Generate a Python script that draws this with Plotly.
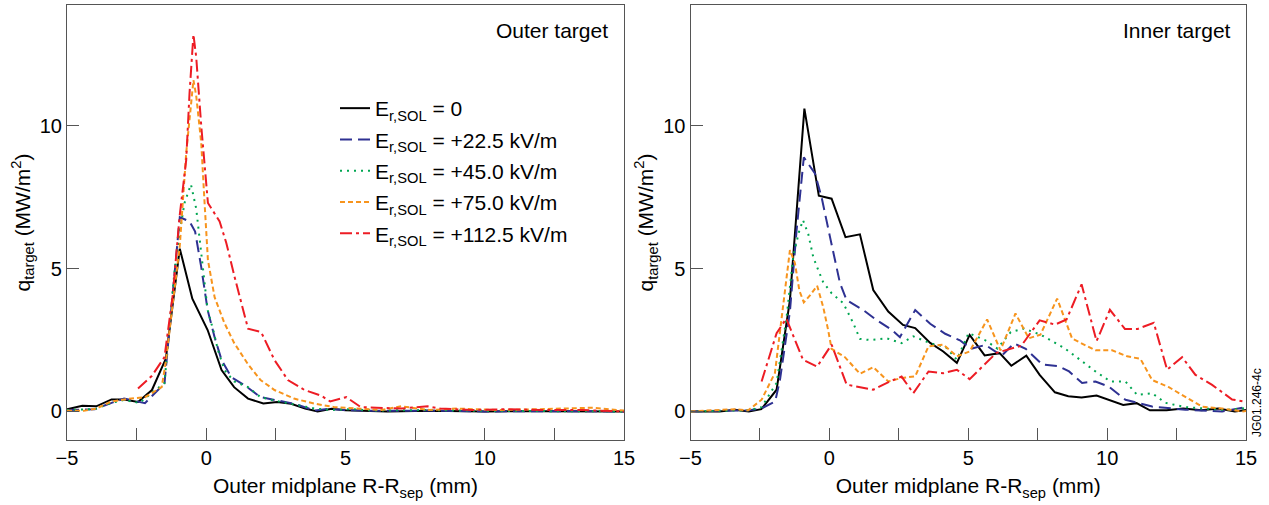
import plotly.graph_objects as go

# ---------------- data ----------------
series_names = ["E<sub>r,SOL</sub> = 0",
                "E<sub>r,SOL</sub> = +22.5 kV/m",
                "E<sub>r,SOL</sub> = +45.0 kV/m",
                "E<sub>r,SOL</sub> = +75.0 kV/m",
                "E<sub>r,SOL</sub> = +112.5 kV/m"]

# Outer target (left panel)
outer_x_0 = [-5, -4.45, -3.95, -3.4, -2.95, -2.45, -1.95, -1.45, -0.95, -0.5, 0.05, 0.55, 1.0, 1.5, 2.05, 2.55,
             3.05, 3.55, 4.0, 4.5, 5.0, 5.6, 6.5, 8, 10, 12, 14, 15]
outer_y_0 = [0.08, 0.2, 0.18, 0.42, 0.42, 0.33, 0.75, 1.85, 5.7, 3.95, 2.85, 1.45, 0.85, 0.45, 0.28, 0.33,
             0.27, 0.1, 0.0, 0.09, 0.04, 0.02, 0.0, 0.02, 0.0, 0.01, 0.0, 0.0]

outer_x_22 = [-5, -4.0, -3.4, -2.95, -2.2, -1.85, -1.5, -1.15, -0.95, -0.6, -0.4, -0.18, 0.05, 0.3, 0.55, 0.9,
              1.4, 1.95, 2.45, 3.15, 3.9, 4.4, 5.0, 6, 8, 10, 12, 14, 15]
outer_y_22 = [0.05, 0.08, 0.3, 0.45, 0.29, 0.62, 0.98, 4.7, 6.8, 6.65, 6.3, 5.05, 3.55, 2.6, 1.8, 1.2,
              0.9, 0.5, 0.4, 0.27, 0.03, 0.09, 0.05, 0.02, 0.03, 0.0, 0.01, 0.0, 0.0]

outer_x_45 = [-5, -4.0, -3.4, -2.95, -2.4, -1.9, -1.5, -1.15, -0.95, -0.78, -0.55, -0.36, -0.12, 0.05, 0.25,
              0.42, 0.65, 1.0, 1.5, 1.95, 2.45, 3.1, 3.9, 4.5, 5.2, 6, 8, 10, 12, 14, 15]
outer_y_45 = [0.05, 0.08, 0.3, 0.4, 0.3, 0.7, 1.0, 4.8, 6.3, 7.3, 7.95, 7.1, 5.05, 3.55, 2.85,
              2.15, 1.45, 1.05, 0.85, 0.5, 0.38, 0.25, 0.1, 0.05, 0.08, 0.03, 0.05, 0.02, 0.02, 0.0, 0.0]

outer_x_75 = [-5, -4.4, -3.95, -3.4, -2.8, -2.2, -1.6, -1.45, -1.2, -0.95, -0.72, -0.46, -0.36, -0.18, -0.06,
              0.06, 0.3, 0.65, 1.0, 1.5, 1.95, 2.45, 3.15, 3.9, 4.6, 5.5, 6.3, 7.0, 8.0, 9, 10.5, 12, 13.9, 15]
outer_y_75 = [0.02, 0.02, 0.1, 0.35, 0.44, 0.5, 0.85, 1.75, 3.8, 5.8, 9.05, 11.6, 11.05, 9.4, 7.3,
              5.3, 4.0, 3.1, 2.4, 1.65, 1.1, 0.75, 0.45, 0.27, 0.15, 0.1, 0.05, 0.18, 0.05, 0.1, 0.05, 0.08, 0.13, 0.03]

outer_x_112 = [-2.45, -1.95, -1.5, -1.2, -0.96, -0.72, -0.6, -0.46, -0.36, -0.18, 0.06, 0.48, 0.72, 1.02, 1.5,
               1.97, 2.45, 2.93, 3.53, 4.13, 4.45, 5.03, 5.55, 6.3, 7.0, 7.95, 8.4, 9.5, 10.8, 12, 13.5, 15]
outer_y_112 = [0.8, 1.25, 1.9, 4.1, 6.8, 8.8, 11.15, 13.2, 12.4, 10.0, 7.3, 6.65, 5.9, 4.7, 2.9,
               2.78, 1.8, 1.1, 0.75, 0.55, 0.35, 0.5, 0.15, 0.12, 0.1, 0.18, 0.1, 0.05, 0.08, 0.05, 0.05, 0.0]

# Inner target (right panel)
inner_x_0 = [-5, -3.95, -3.4, -2.9, -2.45, -1.9, -1.42, -0.9, -0.38, 0.08, 0.58, 1.1, 1.58, 2.12, 2.65, 3.09,
             3.63, 4.1, 4.59, 5.05, 5.59, 6.13, 6.55, 7.09, 7.57, 8.12, 8.6, 9.08, 9.62, 10.1, 10.58, 11.06,
             11.54, 12.14, 12.74, 13.4, 14.0, 14.6, 15]
inner_y_0 = [0, 0, 0.06, 0, 0.08, 0.76, 3.9, 10.6, 7.55, 7.45, 6.1, 6.2, 4.25, 3.5, 3.03, 2.92,
             2.4, 2.1, 1.7, 2.68, 1.96, 2.04, 1.6, 1.95, 1.28, 0.67, 0.53, 0.49, 0.56, 0.39, 0.23, 0.29,
             0.04, 0.04, 0.1, 0.04, 0.1, 0.0, 0.05]

inner_x_22 = [-5, -3.4, -2.9, -2.45, -1.95, -1.78, -1.42, -1.18, -0.92, -0.52, -0.28, 0.02, 0.38, 0.62, 1.22,
              1.7, 2.24, 2.54, 3.09, 3.63, 4.17, 4.7, 5.1, 5.62, 6.2, 6.65, 7.07, 7.67, 8.27, 8.63, 9.1, 9.58,
              10.06, 10.66, 11.14, 11.62, 12.82, 14.14, 15]
inner_y_22 = [0, 0.05, 0.04, 0.1, 0.35, 1.1, 3.5, 6.35, 8.9, 8.33, 7.5, 6.12, 4.5, 3.9, 3.55,
              3.2, 2.86, 2.6, 3.55, 3.07, 2.72, 2.49, 2.19, 2.33, 1.95, 2.38, 2.19, 1.64, 1.58, 1.4, 1.0, 1.05,
              0.87, 0.41, 0.29, 0.17, 0.06, 0.0, 0.15]

inner_x_45 = [-5, -3.4, -2.9, -2.44, -1.9, -1.54, -1.3, -1.1, -0.95, -0.76, -0.58, -0.4, -0.22, 0.08, 0.5,
              0.86, 1.1, 1.46, 2.06, 2.6, 3.02, 3.63, 4.17, 4.59, 5.01, 5.6, 6.05, 6.53, 7.0, 7.6, 8.02, 8.44,
              8.86, 9.58, 10.12, 10.66, 11.08, 11.62, 12.1, 12.82, 14.26, 15]
inner_y_45 = [0, 0.05, 0.04, 0.15, 1.0, 3.3, 5.43, 6.27, 6.7, 6.21, 5.4, 4.95, 4.52, 4.14, 3.79,
              3.09, 2.54, 2.5, 2.56, 2.39, 2.63, 2.39, 2.27, 1.81, 2.74, 2.5, 2.2, 2.78, 2.9, 2.69, 2.46, 2.23,
              1.93, 1.4, 1.05, 1.05, 0.58, 0.64, 0.3, 0.15, 0.05, 0.12]

inner_x_75 = [-5, -3.4, -2.92, -2.44, -1.96, -1.66, -1.42, -1.24, -1.08, -0.92, -0.7, -0.44, -0.22, -0.04, 0.08,
              0.56, 1.1, 1.58, 2.12, 2.6, 3.09, 3.57, 4.1, 4.59, 5.05, 5.68, 6.16, 6.7, 7.18, 7.6, 8.2, 8.74,
              9.58, 10.18, 10.72, 11.2, 11.62, 12.22, 12.82, 13.42, 14.14, 14.86, 15]
inner_y_75 = [0, 0.08, 0.04, 0.41, 1.35, 3.79, 5.65, 5.19, 4.23, 3.82, 4.06, 4.4, 3.65, 2.83, 2.19,
              1.9, 1.32, 1.55, 1.05, 1.17, 1.23, 2.28, 2.34, 1.93, 2.1, 3.22, 2.14, 3.43, 2.56, 2.69, 3.95, 2.55,
              2.14, 2.14, 1.93, 1.84, 1.1, 0.85, 0.5, 0.17, 0.1, 0.0, 0.02]

inner_x_112 = [-2.44, -1.9, -1.55, -0.95, -0.44, 0.08, 0.62, 1.1, 1.58, 2.18, 2.6, 3.02, 3.57, 4.1, 4.59, 5.05,
               6.01, 6.91, 7.57, 8.12, 8.54, 9.08, 9.62, 10.1, 10.64, 11.1, 11.68, 12.16, 12.7, 13.18, 13.78,
               14.5, 15]
inner_y_112 = [1.05, 2.74, 3.25, 1.81, 1.57, 2.34, 0.94, 0.85, 0.76, 1.05, 1.22, 0.64, 1.4, 1.34, 1.46, 1.13,
               2.05, 2.3, 3.19, 3.04, 3.22, 4.45, 2.46, 3.56, 2.89, 2.89, 3.1, 1.46, 1.9, 1.28, 0.93,
               0.42, 0.33]

x_tick_vals = [-5, 0, 5, 10, 15]
y_tick_vals = [0, 5, 10]

# ---------------- styles ----------------
colors = ["#000000", "#2E3192", "#00A651", "#F7941D", "#ED1C24"]
dashes = ["solid", "12px,6px", "2px,5px", "5px,3px", "12px,4px,3px,4px"]

outer = [(outer_x_0, outer_y_0), (outer_x_22, outer_y_22), (outer_x_45, outer_y_45),
         (outer_x_75, outer_y_75), (outer_x_112, outer_y_112)]
inner = [(inner_x_0, inner_y_0), (inner_x_22, inner_y_22), (inner_x_45, inner_y_45),
         (inner_x_75, inner_y_75), (inner_x_112, inner_y_112)]

fig = go.Figure()
for i, (xs, ys) in enumerate(outer):
    fig.add_trace(go.Scatter(x=xs, y=ys, mode="lines", name=series_names[i], legendgroup=f"g{i}",
                             line=dict(color=colors[i], width=2, dash=dashes[i]),
                             xaxis="x", yaxis="y", showlegend=True))
for i, (xs, ys) in enumerate(inner):
    fig.add_trace(go.Scatter(x=xs, y=ys, mode="lines", name=series_names[i], legendgroup=f"g{i}",
                             line=dict(color=colors[i], width=2, dash=dashes[i]),
                             xaxis="x2", yaxis="y2", showlegend=False))

FONT = "Liberation Sans, Arial, sans-serif"
axis_common = dict(showline=True, linecolor="#555555", linewidth=1.2, mirror=True,
                   ticks="inside", ticklen=12, tickcolor="#555555", tickwidth=1,
                   showgrid=False, zeroline=False, automargin=False,
                   tickfont=dict(size=20, color="#000", family=FONT))
xcommon = dict(axis_common, range=[-5, 15], tickvals=x_tick_vals,
               minor=dict(dtick=2.5, ticks="inside", ticklen=12, tickcolor="#555555", showgrid=False),
               title=dict(text="Outer midplane R-R<sub>sep</sub> (mm)", font=dict(size=21, family=FONT, color="#000"),
                          standoff=10))
ycommon = dict(axis_common, range=[-1, 14.23], tickvals=y_tick_vals,
               title=dict(text="q<sub>target</sub> (MW/m<sup>2</sup>)", font=dict(size=21, family=FONT, color="#000"),
                          standoff=3))

L, R, T, B = 67, 23, 5, 65
W, H = 1269, 505
pw = W - L - R
ph = H - T - B
fig.update_layout(
    width=W, height=H, template="none",
    margin=dict(l=L, r=R, t=T, b=B, autoexpand=False),
    paper_bgcolor="white", plot_bgcolor="white",
    font=dict(family=FONT, size=20, color="#000"),
    xaxis=dict(xcommon, domain=[0, (624 - L) / pw], anchor="y"),
    yaxis=dict(ycommon, domain=[0, 1], anchor="x"),
    xaxis2=dict(xcommon, domain=[(690.5 - L) / pw, 1], anchor="y2"),
    yaxis2=dict(ycommon, domain=[0, 1], anchor="x2"),
    legend=dict(x=(335 - L) / pw, y=1 - (88 - T) / ph, xanchor="left", yanchor="top",
                bgcolor="rgba(0,0,0,0)", borderwidth=0, itemwidth=30,
                font=dict(size=21, family=FONT, color="#000"), tracegroupgap=1),
    showlegend=True,
    annotations=[
        dict(text="Outer target", xref="paper", yref="paper", x=(610 - L) / pw, y=1 - (31 - T) / ph,
             xanchor="right", yanchor="middle", showarrow=False, font=dict(size=21, family=FONT, color="#000")),
        dict(text="Inner target", xref="paper", yref="paper", x=(1233 - L) / pw, y=1 - (31 - T) / ph,
             xanchor="right", yanchor="middle", showarrow=False, font=dict(size=21, family=FONT, color="#000")),
        dict(text="JG01.246-4c", xref="paper", yref="paper", x=(1257 - L) / pw, y=1 - (403 - T) / ph,
             xanchor="center", yanchor="middle", textangle=-90, showarrow=False,
             font=dict(size=12, family=FONT, color="#000")),
    ],
)

fig.write_html("out.html", config={"displayModeBar": False},
               post_script="document.body.style.margin='0';document.body.style.overflow='hidden';")
